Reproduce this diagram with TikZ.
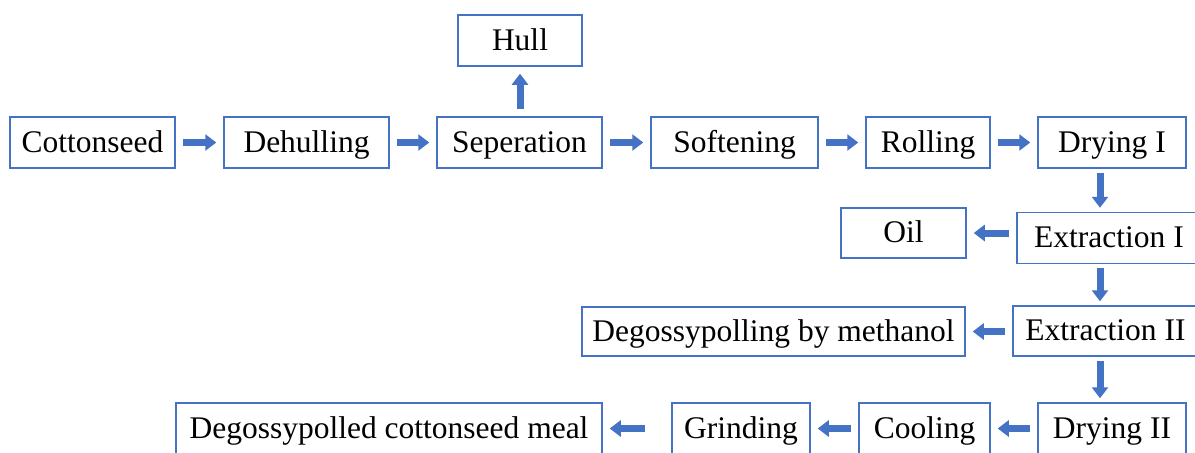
\documentclass[tikz,border=0pt]{standalone}
\usepackage{fontspec}
\setmainfont{Liberation Serif}
\usetikzlibrary{arrows.meta}
\definecolor{main}{RGB}{68,114,196}

\begin{document}
\begin{tikzpicture}[x=0.5pt,y=-0.5pt,
    box/.style={draw=main,line width=0.75pt,minimum height=25.5pt,inner sep=0pt,
        text height=11pt,text depth=1.5pt,font=\fontsize{15.75}{18}\selectfont},
    flow/.style={main,line width=3.5pt,-{Triangle[length=5.5pt,width=8pt]},
        shorten <=3.5pt,shorten >=3.5pt},
    down/.style={flow,shorten <=2pt,shorten >=2pt}]
    \useasboundingbox (0,0) rectangle (1195,452);
    \clip (0,0) rectangle (1195,452);
    % first row
    \node[box,minimum width=82.5pt] (seed) at (92.5,142.5) {Cottonseed};
    \node[box,minimum width=82.5pt] (dehull) at (306.5,142.5) {Dehulling};
    \node[box,minimum width=82.5pt] (sep) at (519.5,142.5) {Seperation};
    \node[box,minimum width=83.5pt] (soft) at (734.5,142.5) {Softening};
    \node[box,minimum width=62pt] (roll) at (928,142.5) {Rolling};
    \node[box,minimum width=74pt] (dry1) at (1112,142.5) {Drying I};
    \node[box,minimum width=62pt] (hull) at (520,40.5) {Hull};
    % right column
    \coordinate (col) at (1100,0);
    \node[box,minimum width=92pt] (ext1) at (1109,238) {Extraction I};
    \node[box,minimum width=62.5pt,minimum height=25pt] (oil) at (903.5,233) {Oil};
    \node[box,minimum width=92.5pt,minimum height=25pt] (ext2) at (1105.5,331) {Extraction II};
    \node[box,minimum width=191.5pt,minimum height=24.5pt] (degos) at (773.5,331.5) {Degossypolling by methanol};
    % last row
    \node[box,minimum width=74pt] (dry2) at (1112,428.5) {Drying II};
    \node[box,minimum width=65.5pt] (cool) at (924.5,428.5) {Cooling};
    \node[box,minimum width=69pt] (grind) at (741,428.5) {Grinding};
    \node[box,minimum width=213pt] (meal) at (389,428.5) {Degossypolled cottonseed meal};

    \draw[flow] (seed) -- (dehull);
    \draw[flow] (dehull) -- (sep);
    \draw[flow] (sep) -- (soft);
    \draw[flow] (soft) -- (roll);
    \draw[flow] (roll) -- (dry1);
    \draw[flow] (sep.north -| hull) -- (hull.south);
    \draw[down] (dry1.south -| col) -- (ext1.north -| col);
    \draw[flow] (ext1.west |- oil) -- (oil.east);
    \draw[down] (ext1.south -| col) -- (ext2.north -| col);
    \draw[flow] (ext2.west |- degos) -- (degos.east);
    \draw[down] (ext2.south -| col) -- (dry2.north -| col);
    \draw[flow] (dry2) -- (cool);
    \draw[flow] (cool) -- (grind);
    \draw[flow,shorten <=13pt] (grind) -- (meal);
\end{tikzpicture}
\end{document}
